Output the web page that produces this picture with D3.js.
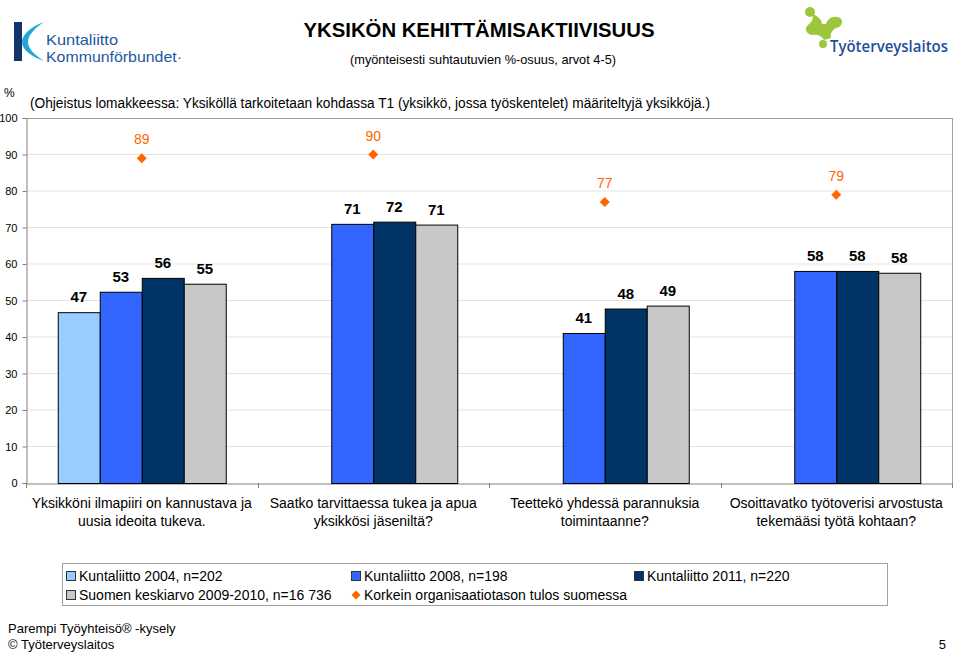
<!DOCTYPE html>
<html><head><meta charset="utf-8">
<script src="https://cdn.jsdelivr.net/npm/d3@7"></script>
<style>body{margin:0;background:#fff}svg{display:block;font-family:"Liberation Sans",Arial,sans-serif}</style>
</head><body>
<svg id="c" width="959" height="653"></svg>
<script>
const categories = [
  ["Yksikköni ilmapiiri on kannustava ja", "uusia ideoita tukeva."],
  ["Saatko tarvittaessa tukea ja apua", "yksikkösi jäseniltä?"],
  ["Teettekö yhdessä parannuksia", "toimintaanne?"],
  ["Osoittavatko työtoverisi arvostusta", "tekemääsi työtä kohtaan?"]
];
const seriesNames = ["Kuntaliitto 2004, n=202", "Kuntaliitto 2008, n=198", "Kuntaliitto 2011, n=220", "Suomen keskiarvo 2009-2010, n=16 736"];
const seriesColors = ["#99ccff", "#3366ff", "#003366", "#c8c8c8"];
const kl2004 = [46.8, null, null, null];
const kl2008 = [52.4, 71.0, 41.1, 58.1];
const kl2011 = [56.2, 71.6, 47.8, 58.1];
const suomi  = [54.6, 70.8, 48.6, 57.6];
const valueLabels = [[47, 53, 56, 55], [null, 71, 72, 71], [null, 41, 48, 49], [null, 58, 58, 58]];
const maxName = "Korkein organisaatiotason tulos suomessa";
const maxValues = [89, 90, 77, 79];
const yTicks = [0, 10, 20, 30, 40, 50, 60, 70, 80, 90, 100];

const svg = d3.select("#c");
const L = 26, R = 952, T = 118, B = 483;
const x = d3.scaleBand().domain(d3.range(categories.length)).range([L, R]).padding(0);
const xs = d3.scaleBand().domain(d3.range(4)).range([0, x.bandwidth()]).paddingInner(0).paddingOuter(0.756);
const y = d3.scaleLinear().domain([0, 100]).range([B, T]);
const series = [kl2004, kl2008, kl2011, suomi];

// gridlines
svg.append("g").selectAll("line").data(yTicks.filter(d => d > 0 && d < 100)).join("line")
  .attr("x1", L).attr("x2", R).attr("y1", d => y(d)).attr("y2", d => y(d))
  .attr("stroke", "#e4e4e4").attr("stroke-width", 1);
// frame top/right
svg.append("line").attr("x1", L).attr("x2", R).attr("y1", T + 0.5).attr("y2", T + 0.5).attr("stroke", "#a0a0a0");
svg.append("line").attr("x1", R + 0.5).attr("x2", R + 0.5).attr("y1", T).attr("y2", B).attr("stroke", "#a0a0a0");

// y axis
const ya = svg.append("g").attr("transform", `translate(${L + 0.5},0)`)
  .call(d3.axisLeft(y).tickValues(yTicks).tickSize(4).tickPadding(5));
ya.select(".domain").attr("stroke", "#808080");
ya.selectAll(".tick line").attr("stroke", "#808080");
ya.selectAll("text").attr("font-size", 11).attr("fill", "#000").attr("font-family", "Liberation Sans, Arial, sans-serif");

// x axis
const xa = svg.append("g").attr("transform", `translate(0,${B + 0.5})`)
  .call(d3.axisBottom(x).tickSize(0).tickFormat(""));
xa.select(".domain").attr("stroke", "#808080");
svg.append("g").selectAll("line").data(d3.range(categories.length + 1)).join("line")
  .attr("x1", i => Math.round(L + i * x.step()) + 0.5).attr("x2", i => Math.round(L + i * x.step()) + 0.5)
  .attr("y1", B).attr("y2", B + 5).attr("stroke", "#808080");

// bars
series.forEach((vals, si) => {
  const g = svg.append("g");
  vals.forEach((v, ci) => {
    if (v == null) return;
    const bx = x(ci) + xs(si);
    g.append("rect").attr("x", bx + 0.5).attr("y", y(v) + 0.5)
      .attr("width", xs.bandwidth()).attr("height", B - y(v))
      .attr("fill", seriesColors[si]).attr("stroke", "#000").attr("stroke-width", 1);
    g.append("text").attr("x", bx + xs.bandwidth() / 2).attr("y", y(v) - 10)
      .attr("text-anchor", "middle").attr("font-size", 15).attr("font-weight", "bold")
      .text(valueLabels[ci][si]);
  });
});

// max diamonds
const diamond = s => `M0,${-s}L${s},0L0,${s}L${-s},0Z`;
maxValues.forEach((v, ci) => {
  const cx = x(ci) + x.bandwidth() / 2;
  svg.append("path").attr("d", diamond(5)).attr("transform", `translate(${cx},${y(v)})`).attr("fill", "#ff6600");
  svg.append("text").attr("x", cx).attr("y", y(v) - 14).attr("text-anchor", "middle")
    .attr("font-size", 14).attr("fill", "#ff6600").text(v);
});

// category labels
categories.forEach((lines, ci) => {
  const cx = x(ci) + x.bandwidth() / 2;
  lines.forEach((ln, li) => {
    svg.append("text").attr("x", cx).attr("y", 508 + li * 18).attr("text-anchor", "middle")
      .attr("font-size", 14).text(ln);
  });
});

// title texts
svg.append("text").attr("x", 479).attr("y", 37).attr("text-anchor", "middle").attr("font-size", 20)
  .attr("font-weight", "bold").attr("textLength", 351).attr("lengthAdjust", "spacingAndGlyphs").text("YKSIKÖN KEHITTÄMISAKTIIVISUUS");
svg.append("text").attr("x", 483).attr("y", 64).attr("text-anchor", "middle").attr("font-size", 13)
  .attr("textLength", 266).attr("lengthAdjust", "spacingAndGlyphs").text("(myönteisesti suhtautuvien %-osuus, arvot 4-5)");
svg.append("text").attr("x", 4).attr("y", 97).attr("font-size", 12).text("%");
svg.append("text").attr("x", 30).attr("y", 108).attr("font-size", 14)
  .attr("textLength", 680).attr("lengthAdjust", "spacingAndGlyphs")
  .text("(Ohjeistus lomakkeessa: Yksiköllä tarkoitetaan kohdassa T1 (yksikkö, jossa työskentelet) määriteltyjä yksikköjä.)");

// legend
svg.append("rect").attr("x", 62.5).attr("y", 563.5).attr("width", 825).attr("height", 42).attr("fill", "#fff").attr("stroke", "#a0a0a0");
const legItems = [
  {n: seriesNames[0], c: seriesColors[0], x: 66, y: 576},
  {n: seriesNames[1], c: seriesColors[1], x: 351, y: 576},
  {n: seriesNames[2], c: seriesColors[2], x: 634, y: 576},
  {n: seriesNames[3], c: seriesColors[3], x: 66, y: 595},
  {n: maxName, c: "#ff6600", x: 351, y: 595, d: true}
];
legItems.forEach(it => {
  if (it.d) svg.append("path").attr("d", diamond(4.5)).attr("transform", `translate(${it.x + 5},${it.y})`).attr("fill", it.c);
  else svg.append("rect").attr("x", it.x + 0.5).attr("y", it.y - 4.5).attr("width", 9).attr("height", 9).attr("fill", it.c).attr("stroke", "#333");
  svg.append("text").attr("x", it.x + 13).attr("y", it.y + 5).attr("font-size", 14).text(it.n);
});

// footer
svg.append("text").attr("x", 8).attr("y", 633).attr("font-size", 13).text("Parempi Työyhteisö® -kysely");
svg.append("text").attr("x", 8).attr("y", 649).attr("font-size", 13).text("© Työterveyslaitos");
svg.append("text").attr("x", 946).attr("y", 649).attr("font-size", 13).attr("text-anchor", "end").text("5");

// Kuntaliitto logo
const kl = svg.append("g");
kl.append("path").attr("d", "M14,22 L22,22 L22,61 L14,61 Z").attr("fill", "#14336b");
kl.append("path").attr("d", "M44,22 C30,27 22,35 22,42 C22,50 32,57 44,61 C35,55 28,49 28,42 C28,35 35,28 44,22 Z").attr("fill", "#22a6d8");
kl.append("text").attr("x", 46).attr("y", 45).attr("font-size", 15).attr("fill", "#1d57a0")
  .attr("textLength", 72).attr("lengthAdjust", "spacingAndGlyphs").text("Kuntaliitto");
kl.append("text").attr("x", 46).attr("y", 62).attr("font-size", 15).attr("fill", "#1d57a0")
  .attr("textLength", 136).attr("lengthAdjust", "spacingAndGlyphs").text("Kommunförbundet·");

// Työterveyslaitos logo
const tl = svg.append("g").attr("fill", "#9cc63b");
tl.append("circle").attr("cx", 810).attr("cy", 12).attr("r", 5);
tl.append("path").attr("d", "M812,14 C818,16 822,20 822,24 L826,24 C828,18 834,15 840,18 C844,21 842,27 836,28 C832,30 830,34 831,38 L824,40 C822,36 818,34 812,35 C806,34 804,28 808,25 C812,22 814,18 812,14 Z");
tl.append("circle").attr("cx", 823).attr("cy", 44).attr("r", 4);
svg.append("text").attr("x", 830).attr("y", 52).attr("font-size", 16).attr("fill", "#1f4f99").attr("font-weight", 600)
  .attr("font-family", "Open Sans, sans-serif").attr("textLength", 118).attr("lengthAdjust", "spacingAndGlyphs").text("Työterveyslaitos");
</script>
</body></html>
